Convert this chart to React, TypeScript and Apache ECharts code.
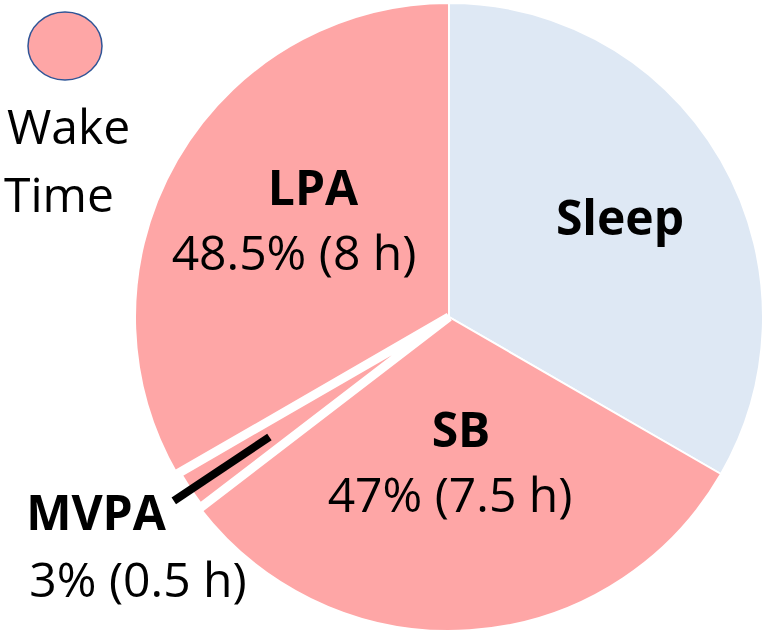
import React, { useEffect, useRef } from "react";
import * as echarts from "echarts";

// Pie order starts at LPA (240° clockwise from 12 o'clock) so MVPA is drawn last
const categories = ["LPA", "Sleep", "SB", "MVPA"];
const hours = [8, 8, 7.5, 0.5];
const wakePercent: (number | null)[] = [48.5, null, 47, 3];
const sliceColors = ["#FEA6A6", "#DEE8F4", "#FEA6A6", "#FEA6A6"];
const legendLabel = ["Wake", "Time"];

const FONT = "'Open Sans', sans-serif";
const PINK = "#FEA6A6";

export default function App() {
  const ref = useRef<HTMLDivElement>(null);
  useEffect(() => {
    if (!ref.current) return;
    const chart = echarts.init(ref.current, null, { renderer: "svg" });

    const mainData = categories.map((name, i) => ({
      name,
      value: hours[i],
      itemStyle: {
        color: sliceColors[i],
        borderColor: "#ffffff",
        borderWidth: name === "MVPA" ? 9 : 2,
        borderJoin: "miter" as const,
      },
    }));

    const lineData = categories.map((name, i) => ({
      name,
      value: hours[i],
      itemStyle: { color: "rgba(0,0,0,0)", borderWidth: 0 },
      label: { show: name === "MVPA" },
      labelLine: { show: name === "MVPA" },
    }));

    const labelText = (i: number) =>
      wakePercent[i] === null ? "" : `${wakePercent[i]}% (${hours[i]} h)`;

    const idx = (n: string) => categories.indexOf(n);

    const textEl = (
      text: string,
      x: number,
      baseline: number,
      bold: boolean,
      align: "left" | "center" = "center"
    ) => ({
      type: "text",
      x,
      y: baseline - 17,
      silent: true,
      z: 100,
      style: {
        text,
        fill: "#000000",
        font: `${bold ? "bold " : ""}48px ${FONT}`,
        textAlign: align,
        textVerticalAlign: "middle",
        verticalAlign: "middle",
      },
    });

    chart.setOption({
      animation: false,
      series: [
        {
          type: "pie",
          center: [449, 317],
          radius: 314,
          startAngle: 210,
          clockwise: true,
          silent: true,
          avoidLabelOverlap: false,
          label: { show: false },
          labelLine: { show: false },
          emphasis: { disabled: true },
          data: mainData,
        },
        {
          type: "pie",
          center: [449, 317],
          radius: 216,
          startAngle: 210,
          clockwise: true,
          silent: true,
          avoidLabelOverlap: false,
          z: 5,
          emphasis: { disabled: true },
          label: {
            show: false,
            position: "outside",
            formatter: " ",
            color: "rgba(0,0,0,0)",
          },
          labelLine: {
            show: false,
            length: 115,
            length2: 0,
            smooth: false,
            lineStyle: { color: "#000000", width: 8, cap: "butt" },
          },
          data: lineData,
        },
      ],
      graphic: [
        {
          type: "ellipse",
          shape: { cx: 65, cy: 46, rx: 37, ry: 34 },
          silent: true,
          style: { fill: PINK, stroke: "#2F5597", lineWidth: 1.5 },
        },
        textEl(legendLabel[0], 7, 142, false, "left"),
        textEl(legendLabel[1], 4, 210, false, "left"),
        textEl(categories[idx("LPA")], 313, 203, true),
        textEl(labelText(idx("LPA")), 294, 268, false),
        textEl(categories[idx("Sleep")], 620, 233, true),
        textEl(categories[idx("SB")], 461, 445, true),
        textEl(labelText(idx("SB")), 450, 510, false),
        textEl(categories[idx("MVPA")], 96, 528, true),
        textEl(labelText(idx("MVPA")), 138, 595, false),
      ],
    });
    return () => chart.dispose();
  }, []);
  return (
    <div
      ref={ref}
      style={{ position: "fixed", left: 0, top: 0, width: 765, height: 637 }}
    />
  );
}
